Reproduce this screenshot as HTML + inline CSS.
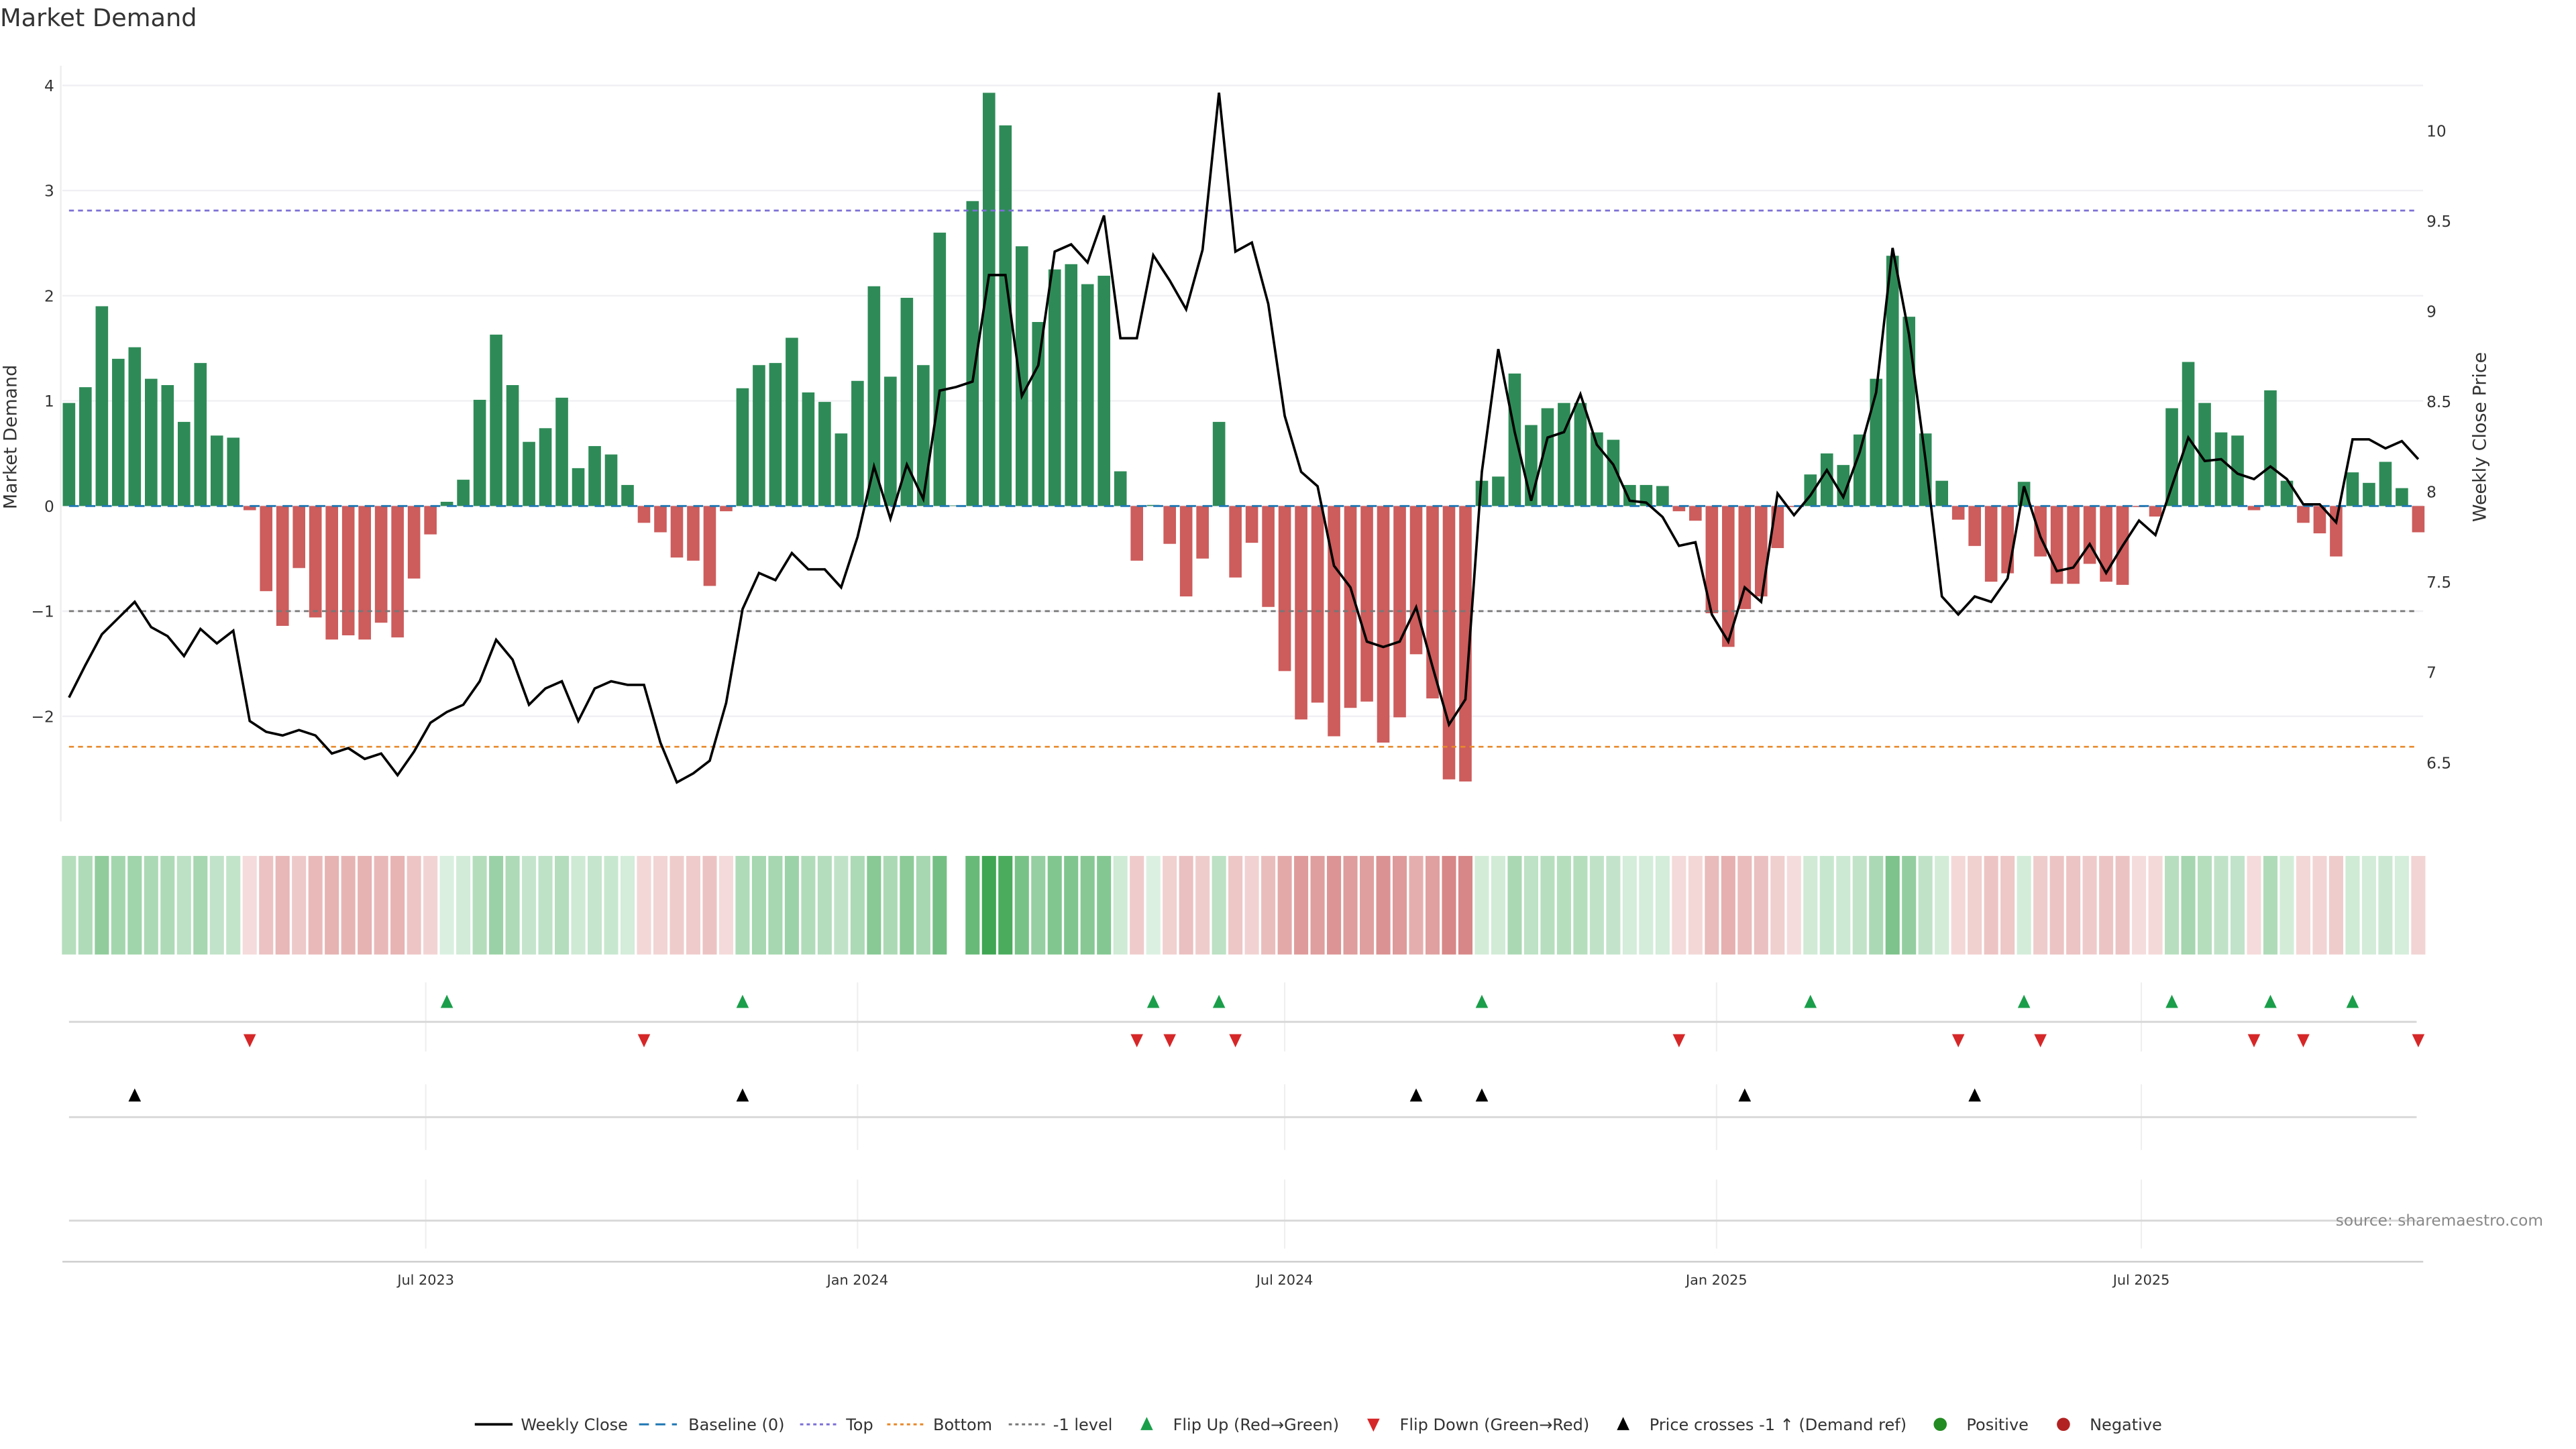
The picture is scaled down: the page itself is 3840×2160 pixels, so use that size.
<!DOCTYPE html>
<html><head><meta charset="utf-8"><title>Market Demand</title>
<style>
html,body{margin:0;padding:0;background:#fff;}
svg{display:block;font-family:"DejaVu Sans","Liberation Sans",sans-serif;}
</style></head>
<body>
<svg id="chart" xmlns="http://www.w3.org/2000/svg" width="3840" height="2160" viewBox="0 0 1568 882" preserveAspectRatio="none">
<rect x="0" y="0" width="1568" height="882" fill="#fff"/>
<text x="0" y="16" font-size="15" fill="#333">Market Demand</text>
<text transform="translate(10,266) rotate(-90)" text-anchor="middle" font-size="11" fill="#333">Market Demand</text>
<text transform="translate(1513,266) rotate(-90)" text-anchor="middle" font-size="11" fill="#333">Weekly Close Price</text>
<g id="main"></g>
<g id="heat"></g>
<g id="flips"></g>
<g id="cross"></g>
<g id="xaxis"></g>
<text x="1548" y="746" text-anchor="end" font-size="9.5" fill="#888">source: sharemaestro.com</text>
<g id="legend"></g>
</svg>
<script>
const demand = [0.98,1.13,1.90,1.40,1.51,1.21,1.15,0.80,1.36,0.67,0.65,-0.04,-0.81,-1.14,-0.59,-1.06,-1.27,-1.23,-1.27,-1.11,-1.25,-0.69,-0.27,0.04,0.25,1.01,1.63,1.15,0.61,0.74,1.03,0.36,0.57,0.49,0.20,-0.16,-0.25,-0.49,-0.52,-0.76,-0.05,1.12,1.34,1.36,1.60,1.08,0.99,0.69,1.19,2.09,1.23,1.98,1.34,2.60,0.005,2.90,3.93,3.62,2.47,1.75,2.25,2.30,2.11,2.19,0.33,-0.52,0.01,-0.36,-0.86,-0.50,0.80,-0.68,-0.35,-0.96,-1.57,-2.03,-1.87,-2.19,-1.92,-1.86,-2.25,-2.01,-1.41,-1.83,-2.60,-2.62,0.24,0.28,1.26,0.77,0.93,0.98,0.98,0.70,0.63,0.20,0.20,0.19,-0.05,-0.14,-1.02,-1.34,-0.98,-0.86,-0.40,-0.01,0.30,0.50,0.39,0.68,1.21,2.38,1.80,0.69,0.24,-0.13,-0.38,-0.72,-0.64,0.23,-0.48,-0.74,-0.74,-0.55,-0.72,-0.75,-0.01,-0.10,0.93,1.37,0.98,0.70,0.67,-0.04,1.10,0.24,-0.16,-0.26,-0.48,0.32,0.22,0.42,0.17,-0.25];
const closePrice = [6.86,7.04,7.21,7.30,7.39,7.25,7.20,7.09,7.24,7.16,7.23,6.73,6.67,6.65,6.68,6.65,6.55,6.58,6.52,6.55,6.43,6.56,6.72,6.78,6.82,6.95,7.18,7.07,6.82,6.91,6.95,6.73,6.91,6.95,6.93,6.93,6.61,6.39,6.44,6.51,6.83,7.35,7.55,7.51,7.66,7.57,7.57,7.47,7.75,8.14,7.85,8.15,7.96,8.56,8.58,8.61,9.20,9.20,8.53,8.70,9.33,9.37,9.27,9.53,8.85,8.85,9.31,9.17,9.01,9.34,10.21,9.33,9.38,9.04,8.42,8.11,8.03,7.59,7.47,7.17,7.14,7.17,7.36,7.03,6.71,6.85,8.11,8.79,8.33,7.95,8.30,8.33,8.54,8.26,8.15,7.95,7.94,7.86,7.70,7.72,7.32,7.17,7.47,7.39,7.99,7.87,7.98,8.12,7.97,8.22,8.55,9.35,8.87,8.18,7.42,7.32,7.42,7.39,7.52,8.03,7.75,7.56,7.58,7.71,7.55,7.70,7.84,7.76,8.03,8.30,8.17,8.18,8.10,8.07,8.14,8.07,7.93,7.93,7.83,8.29,8.29,8.24,8.28,8.18];
const leftTicks = [4,3,2,1,0,-1,-2];
const rightTicks = [10,9.5,9,8.5,8,7.5,7,6.5];
const refLevels = [2.81,-1,-2.29];
const dateTicks = ["2023-07-01","2024-01-01","2024-07-01","2025-01-01","2025-07-01"];
const dateTickLabels = ["Jul 2023","Jan 2024","Jul 2024","Jan 2025","Jul 2025"];
const startDate = "2023-01-30";

const NS="http://www.w3.org/2000/svg";
function mk(tag, attrs, parent){const e=document.createElementNS(NS,tag);for(const k in attrs)e.setAttribute(k,attrs[k]);parent.appendChild(e);return e;}
const DAY=86400000, t0=Date.parse(startDate);
const xT=t=>42+(t-t0)/DAY*(10/7);
const xI=i=>xT(t0+i*7*DAY);
const yL=v=>308-v*64;
const yR=p=>299.3-(p-8)*109.9;
const pFromY=y=>8-(y-299.3)/109.9;

const main=document.getElementById('main');
// left axis line
let ax=mk('line',{x1:37,x2:37,y1:40,y2:500,stroke:'#eee','stroke-width':1},main);


leftTicks.forEach(v=>{
  const g=mk('line',{x1:38,x2:1475,y1:yL(v),y2:yL(v),stroke:'#f0f0f4','stroke-width':1},main);
  
  
  const t=mk('text',{x:33,y:yL(v)+3.5,'text-anchor':'end','font-size':9.5,fill:'#333'},main);
  t.textContent=(v<0?'\u2212'+Math.abs(v):v);
  
  
});
rightTicks.forEach(p=>{
  const t=mk('text',{x:1477,y:yR(p)+3.5,'font-size':9.5,fill:'#333'},main);
  t.textContent=p;
  
  
});
// bars
demand.forEach((v,i)=>{
  const y0=yL(0), y1=yL(v);
  const r=mk('rect',{x:xI(i)-3.8,width:7.6,y:Math.min(y0,y1),height:Math.abs(y1-y0),fill:v>=0?'#2e8b57':'#cd5c5c'},main);
  
  
});
// reference lines
const refColors=['#7b6fd6','#777','#e8892a'];
const refNames=['top-line','minus-one-level-line','bottom-line'];
refLevels.forEach((v,k)=>{
  const l=mk('line',{x1:42,x2:1471,y1:yL(v),y2:yL(v),stroke:refColors[k],'stroke-width':1.1,'stroke-dasharray':'3,2.5'},main);
  
  
});
let bl=mk('line',{x1:42,x2:1471,y1:yL(0),y2:yL(0),stroke:'#1f77b4','stroke-width':1.2,'stroke-dasharray':'6,4'},main);


// price line
let d='';closePrice.forEach((p,i)=>{d+=(i?'L':'M')+xI(i).toFixed(2)+','+yR(p).toFixed(2);});
let pl=mk('path',{d:d,fill:'none',stroke:'#000','stroke-width':1.5,'stroke-linejoin':'miter'},main);



// heatmap
const heat=document.getElementById('heat');
demand.forEach((v,i)=>{
  let c;
  if(v>=0){const f=Math.min(v/4,1);c=`rgb(${Math.round(220-160*f)},${Math.round(240-75*f)},${Math.round(225-145*f)})`;}
  else{const f=Math.min(-v/2.6,1);c=`rgb(${Math.round(245-30*f)},${Math.round(220-85*f)},${Math.round(220-85*f)})`;}
  if(Math.abs(v)<0.008)c='#fff';
  const r=mk('rect',{x:xI(i)-4.3,width:8.6,y:521,height:60,fill:c},heat);
  
  
});

// panels
const flips=document.getElementById('flips'), cross=document.getElementById('cross');
function panel(g,y1,y2,ly){
  dateTicks.forEach(s=>{const x=xT(Date.parse(s));
    const l=mk('line',{x1:x,x2:x,y1:y1,y2:y2,stroke:'#eee','stroke-width':0.8},g);
    
    });
  const h=mk('line',{x1:42,x2:1471,y1:ly,y2:ly,stroke:'#d8d8d8','stroke-width':1.2},g);
  
  
}
panel(flips,598,640,622);
panel(cross,660,700,680);
panel(cross,718,760,743);
function tri(g,x,y,up,color,name){
  const p=up?`${x},${y-4.5} ${x-3.8},${y+3.5} ${x+3.8},${y+3.5}`:`${x},${y+4.5} ${x-3.8},${y-3.5} ${x+3.8},${y-3.5}`;
  const e=mk('polygon',{points:p,fill:color},g);
  
  
}
const thr=pFromY(yL(-1));
for(let i=1;i<demand.length;i++){
  if(demand[i]>0&&demand[i-1]<0)tri(flips,xI(i),610,true,'#1a9e4a','flip-up-marker');
  if(demand[i]<0&&demand[i-1]>0)tri(flips,xI(i),633,false,'#d62728','flip-down-marker');
  if(closePrice[i]>thr&&closePrice[i-1]<=thr)tri(cross,xI(i),667,true,'#000','price-cross-marker');
}

// x axis
const xa=document.getElementById('xaxis');
let al=mk('line',{x1:38,x2:1475,y1:768,y2:768,stroke:'#ccc','stroke-width':1},xa);


dateTicks.forEach((s,k)=>{const x=xT(Date.parse(s));
  const t=mk('text',{x:x,y:782,'text-anchor':'middle','font-size':8.5,fill:'#333'},xa);
  t.textContent=dateTickLabels[k];
  
  });

// legend
const lg=document.getElementById('legend'), LY=867;
function ltext(x,s){const t=mk('text',{x:x,y:LY+3.5,'font-size':9.8,fill:'#333'},lg);t.textContent=s;
  
  }
function lline(x,col,dash,w){const l=mk('line',{x1:x,x2:x+23,y1:LY,y2:LY,stroke:col,'stroke-width':w,'stroke-dasharray':dash},lg);
  
  }
lline(289,'#000','none',1.5);ltext(317,'Weekly Close');
lline(389,'#1f77b4','6,4',1.2);ltext(419,'Baseline (0)');
lline(487,'#7b6fd6','2,2',1.2);ltext(515,'Top');
lline(540,'#e8892a','2,2',1.2);ltext(568,'Bottom');
lline(614,'#777','2,2',1.2);ltext(641,'-1 level');
tri(lg,698,LY,true,'#1a9e4a','legend-flip-up');ltext(714,'Flip Up (Red\u2192Green)');
tri(lg,836,LY,false,'#d62728','legend-flip-down');ltext(852,'Flip Down (Green\u2192Red)');
tri(lg,988,LY,true,'#000','legend-price-cross');ltext(1004,'Price crosses -1 \u2191 (Demand ref)');
let c1=mk('circle',{cx:1181,cy:LY,r:4,fill:'#228b22'},lg);


ltext(1197,'Positive');
let c2=mk('circle',{cx:1256,cy:LY,r:4,fill:'#b22222'},lg);


ltext(1272,'Negative');
</script>
</body></html>
